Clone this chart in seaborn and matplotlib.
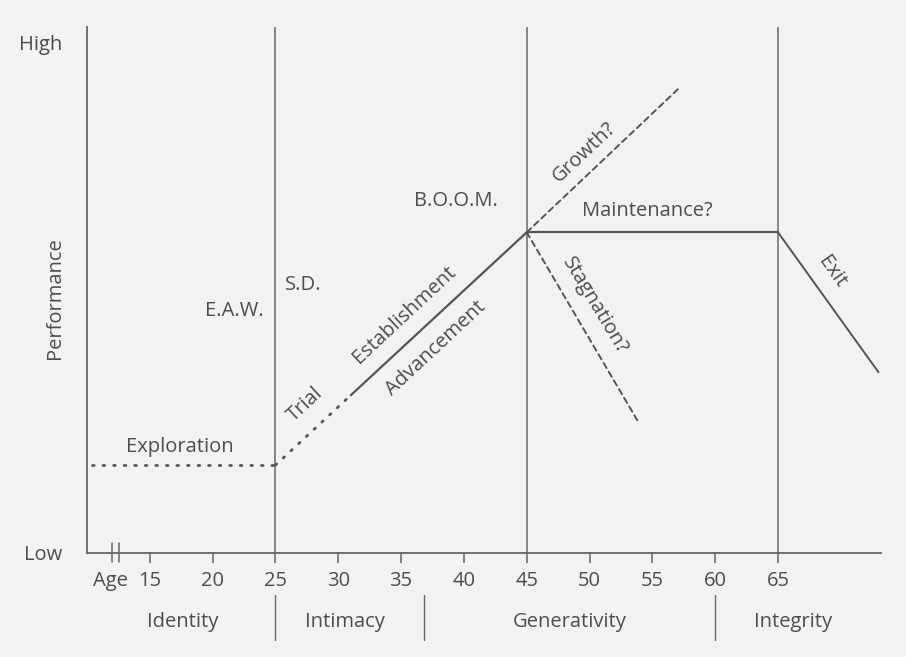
import matplotlib
matplotlib.use("Agg")
import matplotlib.pyplot as plt
import pandas as pd
import seaborn as sns

sns.set_theme(style="white")
plt.rcParams['font.family'] = ['Open Sans', 'DejaVu Sans']

# career path segments (age, performance 0=Low .. 100=High)
explore_age = [10.4, 25]
explore_perf = [17.2, 17.2]
trial_age = [25, 31]
trial_perf = [17.2, 30.9]
estab_age = [31, 45]
estab_perf = [30.9, 62.8]
maint_age = [45, 65]
maint_perf = [62.8, 62.8]
exit_age = [65, 73]
exit_perf = [62.8, 35.4]
growth_age = [45, 57.2]
growth_perf = [62.8, 91.2]
stag_age = [45, 53.8]
stag_perf = [62.8, 26.0]

age_ticks = [15, 20, 25, 30, 35, 40, 45, 50, 55, 60, 65]
stage_bounds = [25, 45, 65]
perf_ticks = [0, 100]
perf_labels = ["Low", "High"]

erikson_labels = ["Identity", "Intimacy", "Generativity", "Integrity"]
erikson_pos = [17.6, 30.5, 48.4, 66.2]
erikson_bounds = [25, 36.8, 60]

# text labels on the chart
labels = ["Exploration", "E.A.W.", "S.D.", "Trial", "Establishment", "Advancement",
          "B.O.O.M.", "Growth?", "Maintenance?", "Stagnation?", "Exit"]
label_age = [17.4, 21.7, 27.2, 27.4, 35.3, 37.8, 39.4, 49.6, 54.6, 50.4, 69.3]
label_perf = [20.7, 47.4, 52.4, 29.0, 46.6, 40.1, 68.9, 78.5, 66.9, 48.5, 55.0]
label_rot = [0, 0, 0, 43, 43, 43, 0, 43, 0, -59, -55]

bg = "#f2f2f2"
ink = "#555555"
txt = "#4d4d4d"
fs = 14.5

fig = plt.figure(figsize=(9.06, 6.57), dpi=100, facecolor=bg)
ax = fig.add_axes([87 / 906, 104 / 657, 794 / 906, 526 / 657])
ax.set_facecolor(bg)

segments = [
    (explore_age, explore_perf, (0, (0.6, 3.2)), 2.0),
    (trial_age, trial_perf, (0, (0.6, 3.2)), 2.0),
    (estab_age, estab_perf, "-", 1.6),
    (maint_age, maint_perf, "-", 1.6),
    (exit_age, exit_perf, "-", 1.4),
    (growth_age, growth_perf, (0, (3, 2.2)), 1.4),
    (stag_age, stag_perf, (0, (3, 2.2)), 1.4),
]
for a, p, ls, lw in segments:
    df = pd.DataFrame({"age": a, "perf": p})
    sns.lineplot(data=df, x="age", y="perf", ax=ax, color=ink, linestyle=ls,
                 linewidth=lw, sort=False, estimator=None, dash_capstyle="round")

for b in stage_bounds:
    ax.axvline(b, color="#6a6a6a", linewidth=1.1, zorder=1)

ax.set_xlim(10, 73.2)
ax.set_ylim(0, 103)
sns.despine(ax=ax)
for s in ["left", "bottom"]:
    ax.spines[s].set_color("#666666")
    ax.spines[s].set_linewidth(1.3)

ax.set_xticks(age_ticks)
ax.set_xticklabels([str(t) for t in age_ticks])
ax.tick_params(axis="x", direction="out", length=7, width=1.1, color="#666666",
               pad=6, labelsize=fs, labelcolor=txt, bottom=True)
ax.set_yticks(perf_ticks)
ax.set_yticklabels(perf_labels)
ax.tick_params(axis="y", length=0, pad=18, labelsize=fs, labelcolor=txt)
ax.set_xlabel("")
ax.set_ylabel("")

# axis break
for xb in [12.0, 12.55]:
    ax.plot([xb, xb], [2.0, -1.8], color="#666666", linewidth=1.1, clip_on=False)

ax.text(11.9, -5.4, "Age", ha="center", va="center", fontsize=fs, color=txt, clip_on=False)
ax.text(7.45, 50, "Performance", rotation=90, ha="center", va="center",
        fontsize=fs, color=txt, clip_on=False)

for name, x in zip(erikson_labels, erikson_pos):
    ax.text(x, -13.5, name, ha="center", va="center", fontsize=fs, color=txt, clip_on=False)
for b in erikson_bounds:
    ax.plot([b, b], [-8.2, -17.0], color="#666666", linewidth=1.0, clip_on=False)

for name, x, y, r in zip(labels, label_age, label_perf, label_rot):
    ax.text(x, y, name, ha="center", va="center", rotation=r,
            rotation_mode="anchor", fontsize=fs, color=txt)

fig.savefig("out.png", dpi=100, facecolor=bg)
